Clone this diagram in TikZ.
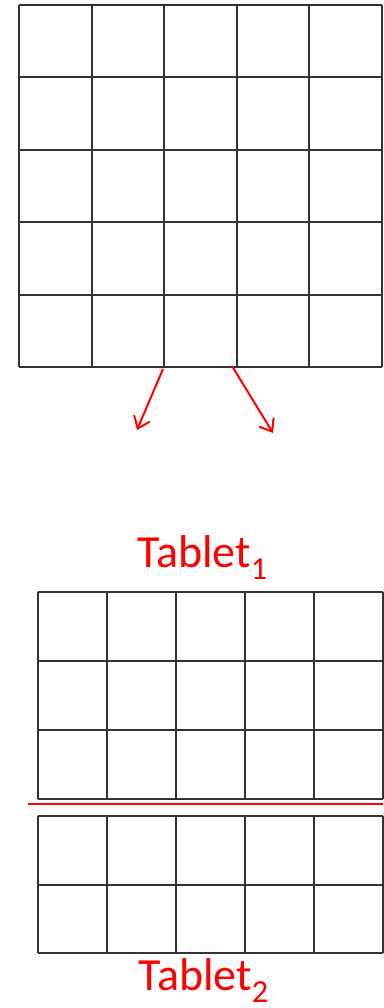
\documentclass[tikz,border=0pt]{standalone}
\usepackage{fontspec}
\setmainfont{Carlito}
\usetikzlibrary{arrows.meta, positioning}

\begin{document}
\begin{tikzpicture}[
    x=1pt, y=-1pt,
    gridline/.style={draw=black!80, line width=2pt},
    cutline/.style={draw=red, line width=2pt},
    splitarrow/.style={draw=red, line width=2pt, -{Straight Barb[length=11pt, width=17pt, line width=2pt]}},
    tabletlabel/.style={text=red, font=\fontsize{46}{50}\selectfont, inner sep=0pt, anchor=base west}
]
    \useasboundingbox (0,0) rectangle (383,1008);

    % original table, 5 x 5
    \foreach \i in {0,...,5} {
        \draw[gridline] ({19+72.6*\i},5) -- ({19+72.6*\i},367);
        \draw[gridline] (19,{5+72.4*\i}) -- (382,{5+72.4*\i});
    }

    % split arrows
    \coordinate (left start) at (163,369);
    \coordinate (left end) at (137,430);
    \coordinate (right start) at (232,366);
    \coordinate (right end) at (273,433);
    \draw[splitarrow] (left start) -- (left end);
    \draw[splitarrow] (right start) -- (right end);

    % tablet 1, 3 rows
    \node[tabletlabel] (tab1) at (137,567) {Tablet\textsubscript{1}};
    \foreach \i in {0,...,5}
        \draw[gridline] ({37.5+69*\i},592) -- ({37.5+69*\i},799);
    \foreach \j in {0,...,3}
        \draw[gridline] (37.5,{592+69*\j}) -- (383,{592+69*\j});

    % cut between the tablets
    \coordinate (cut west) at (28,804);
    \coordinate (cut east) at (383,804);
    \draw[cutline] (cut west) -- (cut east);

    % tablet 2, 2 rows
    \foreach \i in {0,...,5}
        \draw[gridline] ({37.5+69*\i},816) -- ({37.5+69*\i},953);
    \foreach \j in {0,...,2}
        \draw[gridline] (37.5,{816+68.5*\j}) -- (383,{816+68.5*\j});
    \node[tabletlabel] (tab2) at (138,990) {Tablet\textsubscript{2}};
\end{tikzpicture}
\end{document}
